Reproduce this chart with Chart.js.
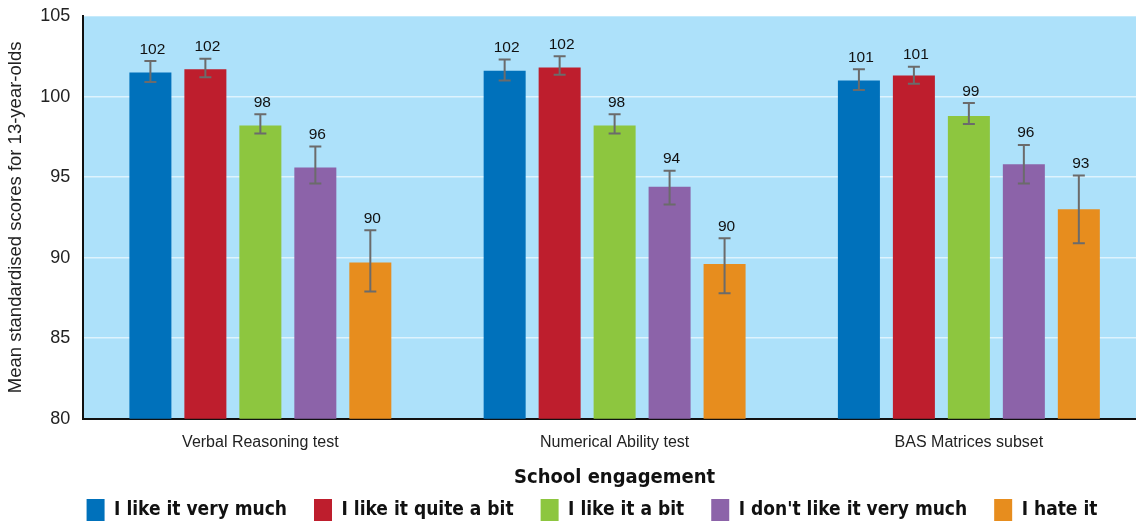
<!DOCTYPE html>
<html>
<head>
<meta charset="utf-8">
<script src="https://cdn.jsdelivr.net/npm/chart.js@4.4.1/dist/chart.umd.min.js"></script>
<style>
  html, body { margin: 0; padding: 0; background: #fff; overflow: hidden; }
  #wrap { width: 1146px; height: 522px; }
</style>
</head>
<body>
<div id="wrap"><canvas id="chart"></canvas></div>
<script>
// Data
var tests = ["Verbal Reasoning test", "Numerical Ability test", "BAS Matrices subset"];
var engagement = ["I like it very much", "I like it quite a bit", "I like it a bit", "I don't like it very much", "I hate it"];

var likeVeryMuch     = [101.5, 101.6, 101.0];
var likeQuiteABit    = [101.7, 101.8, 101.3];
var likeABit         = [98.2, 98.2, 98.8];
var dontLikeVeryMuch = [95.6, 94.4, 95.8];
var hateIt           = [89.7, 89.6, 93.0];

// 95% confidence interval ends
var likeVeryMuchLow      = [100.9, 101.0, 100.4];
var likeVeryMuchHigh     = [102.2, 102.3, 101.7];
var likeQuiteABitLow     = [101.2, 101.35, 100.8];
var likeQuiteABitHigh    = [102.35, 102.5, 101.85];
var likeABitLow          = [97.7, 97.7, 98.3];
var likeABitHigh         = [98.9, 98.9, 99.6];
var dontLikeVeryMuchLow  = [94.6, 93.3, 94.6];
var dontLikeVeryMuchHigh = [96.9, 95.4, 97.0];
var hateItLow            = [87.9, 87.8, 90.9];
var hateItHigh           = [91.7, 91.2, 95.1];

var yTicks = [80, 85, 90, 95, 100, 105];

var colors = ["#0071BB", "#BE1E2D", "#8DC63F", "#8C63A9", "#E78D1E"];

var series = [likeVeryMuch, likeQuiteABit, likeABit, dontLikeVeryMuch, hateIt];
var lows   = [likeVeryMuchLow, likeQuiteABitLow, likeABitLow, dontLikeVeryMuchLow, hateItLow];
var highs  = [likeVeryMuchHigh, likeQuiteABitHigh, likeABitHigh, dontLikeVeryMuchHigh, hateItHigh];

var condensed = "'DejaVu Sans Condensed', 'DejaVu Sans', sans-serif";
var plain = "'Liberation Sans', Arial, sans-serif";

var datasets = [];
for (var i = 0; i < series.length; i++) {
  datasets.push({
    label: engagement[i],
    data: series[i],
    errLow: lows[i],
    errHigh: highs[i],
    backgroundColor: colors[i],
    borderWidth: 0,
    barPercentage: 0.764,
    categoryPercentage: 0.776
  });
}

// Light blue plot background
var plotBg = {
  id: "plotBg",
  beforeDraw: function (chart) {
    var a = chart.chartArea;
    var ctx = chart.ctx;
    ctx.save();
    ctx.fillStyle = "#ADE1FA";
    ctx.fillRect(a.left, a.top, a.right - a.left, a.bottom - a.top);
    ctx.restore();
  }
};

// Error bars and value labels
var errorBars = {
  id: "errorBars",
  afterDatasetsDraw: function (chart) {
    var ctx = chart.ctx;
    var y = chart.scales.y;
    ctx.save();
    chart.data.datasets.forEach(function (ds, di) {
      var meta = chart.getDatasetMeta(di);
      meta.data.forEach(function (bar, j) {
        var yl = y.getPixelForValue(ds.errLow[j]);
        var yh = y.getPixelForValue(ds.errHigh[j]);
        var x = bar.x;
        ctx.strokeStyle = "#6B6B6B";
        ctx.lineWidth = 2;
        ctx.beginPath();
        ctx.moveTo(x, yl); ctx.lineTo(x, yh);
        ctx.moveTo(x - 6, yl); ctx.lineTo(x + 6, yl);
        ctx.moveTo(x - 6, yh); ctx.lineTo(x + 6, yh);
        ctx.stroke();

        ctx.fillStyle = "#111";
        ctx.font = "15.5px " + plain;
        ctx.textAlign = "center";
        ctx.textBaseline = "bottom";
        ctx.fillText(String(Math.round(ds.data[j])), x + 2, yh - 4);
      });
    });
    ctx.restore();
  }
};

// Nudge the legend to sit where the reference has it
var legendShift = {
  id: "legendShift",
  afterLayout: function (chart) {
    var lg = chart.legend;
    if (!lg) return;
    lg.left += 38;
    lg.top -= 18;
    lg.bottom -= 18;
  }
};

new Chart(document.getElementById("chart"), {
  type: "bar",
  data: { labels: tests, datasets: datasets },
  plugins: [plotBg, errorBars, legendShift],
  options: {
    responsive: true,
    maintainAspectRatio: false,
    animation: false,
    layout: { padding: { top: 0, left: 0, right: 0, bottom: -27 } },
    plugins: {
      tooltip: { enabled: false },
      legend: {
        position: "bottom",
        labels: {
          boxWidth: 18,
          boxHeight: 22,
          padding: 27,
          color: "#111",
          font: { family: condensed, size: 19, weight: "bold" }
        }
      }
    },
    scales: {
      x: {
        grid: { display: false, drawTicks: false },
        border: { display: true, color: "#111", width: 2 },
        ticks: {
          color: "#222",
          padding: 14,
          font: { family: plain, size: 16 }
        },
        title: {
          display: true,
          text: "School engagement",
          color: "#111",
          padding: { top: 0, bottom: 0 },
          font: { family: condensed, size: 20, weight: "bold" }
        }
      },
      y: {
        min: 80,
        max: 105,
        afterBuildTicks: function (scale) {
          scale.ticks = yTicks.map(function (v) { return { value: v }; });
        },
        afterFit: function (scale) {
          scale.paddingTop = 16;
        },
        grid: { color: "rgba(255,255,255,0.6)", lineWidth: 1.5, drawTicks: false },
        border: { display: true, color: "#111", width: 2 },
        ticks: {
          color: "#222",
          padding: 13,
          font: { family: plain, size: 18 }
        },
        title: {
          display: true,
          text: "Mean standardised scores for 13-year-olds",
          color: "#222",
          padding: { top: 5, bottom: 0 },
          font: { family: plain, size: 18.5 }
        }
      }
    }
  }
});
</script>
</body>
</html>
